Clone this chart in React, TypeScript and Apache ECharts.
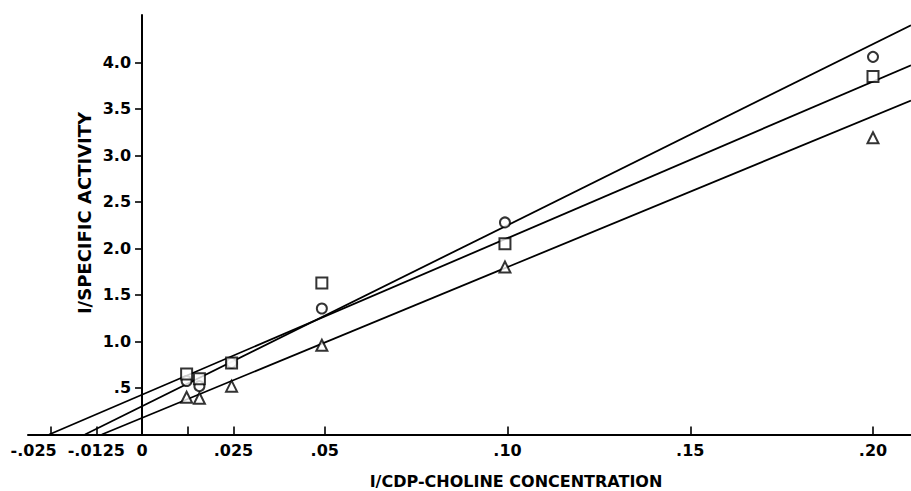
import React, { useEffect, useRef } from "react";
import * as echarts from "echarts";

// Axis ticks / labels
const xTickValues = [-0.025, -0.0125, 0, 0.0125, 0.025, 0.05, 0.1, 0.15, 0.2];
const xLabelValues = [-0.025, -0.0125, 0, 0.025, 0.05, 0.1, 0.15, 0.2];
const xLabelTexts = ["-.025", "-.0125", "0", ".025", ".05", ".10", ".15", ".20"];
const yTickValues = [0.5, 1.0, 1.5, 2.0, 2.5, 3.0, 3.5, 4.0];
const yLabelTexts = [".5", "1.0", "1.5", "2.0", "2.5", "3.0", "3.5", "4.0"];

// Data (x = 1/CDP-choline concentration)
const xValues = [0.0122, 0.0157, 0.0245, 0.0492, 0.0993, 0.2];
const circleValues = [0.575, 0.52, 0.77, 1.355, 2.28, 4.06];
const squareValues = [0.65, 0.6, 0.77, 1.63, 2.05, 3.85];
const triangleValues = [0.4, 0.39, 0.52, 0.96, 1.8, 3.19];

// Fitted lines: [x-intercept, y at right edge]
const lineTop = [[-0.0156, 0], [0.2104, 4.4]];
const lineMid = [[-0.0254, 0], [0.2104, 3.97]];
const lineBot = [[-0.011, 0], [0.2104, 3.59]];

const FONT = "'DejaVu Sans', 'Liberation Sans', sans-serif";
const X_MIN = -0.0312;
const X_MAX = 0.2104;
const GRID_LEFT = 28;
const GRID_WIDTH = 911 - GRID_LEFT;

export default function App() {
  const ref = useRef<HTMLDivElement>(null);
  useEffect(() => {
    if (!ref.current) return;
    const chart = echarts.init(ref.current, null, { renderer: "svg" });
    const pts = (ys: number[]) => xValues.map((x, i) => [x, ys[i]]);
    const markerStyle = { color: "#fff", borderColor: "#000", borderWidth: 2 };
    const lineStyle = { color: "#000", width: 1.8 };
    // shift the y axis so that it stands at x = 0 of the x axis
    const yOffset = -((0 - X_MIN) / (X_MAX - X_MIN)) * GRID_WIDTH;
    chart.setOption({
      animation: false,
      backgroundColor: "#fff",
      grid: { left: GRID_LEFT, right: 0, top: 15, bottom: 56.5, containLabel: false, outerBoundsMode: "none" },
      xAxis: {
        type: "value",
        min: X_MIN,
        max: X_MAX,
        axisLine: { onZero: false, lineStyle: { color: "#000", width: 2 } },
        axisTick: { customValues: xTickValues, inside: true, length: 8, lineStyle: { color: "#000", width: 1.6 } },
        axisLabel: {
          customValues: xLabelValues,
          margin: 8,
          color: "#000",
          fontFamily: FONT,
          fontWeight: "bold",
          fontSize: 16,
          formatter: (v: number) => {
            const i = xLabelValues.findIndex((x) => Math.abs(x - v) < 1e-9);
            const t = i >= 0 ? xLabelTexts[i] : "";
            return v < -0.02 ? "{s|" + t + "}" : t;
          },
          rich: { s: { padding: [0, 34, 0, 0], color: "#000", fontFamily: FONT, fontWeight: "bold", fontSize: 16 } },
        },
        splitLine: { show: false },
      },
      yAxis: {
        type: "value",
        min: 0,
        max: 4.51,
        offset: yOffset,
        axisLine: { show: true, onZero: false, lineStyle: { color: "#000", width: 2 } },
        axisTick: { show: true, customValues: yTickValues, length: 7, lineStyle: { color: "#000", width: 1.6 } },
        axisLabel: {
          customValues: yTickValues,
          margin: 11,
          color: "#000",
          fontFamily: FONT,
          fontWeight: "bold",
          fontSize: 16,
          formatter: (v: number) => {
            const i = yTickValues.findIndex((y) => Math.abs(y - v) < 1e-9);
            return i >= 0 ? yLabelTexts[i] : "";
          },
        },
        splitLine: { show: false },
      },
      graphic: [
        {
          type: "text",
          x: 516,
          y: 481,
          style: {
            text: "I/CDP-CHOLINE CONCENTRATION",
            fill: "#000",
            font: "bold 16px " + FONT,
            align: "center",
            verticalAlign: "middle",
          },
        },
        {
          type: "text",
          x: 84,
          y: 213,
          rotation: Math.PI / 2,
          style: {
            text: "I/SPECIFIC ACTIVITY",
            fill: "#000",
            font: "bold 18px " + FONT,
            align: "center",
            verticalAlign: "middle",
          },
        },
      ],
      series: [
        { type: "line", data: lineTop, symbol: "none", lineStyle, clip: true, z: 2 },
        { type: "line", data: lineMid, symbol: "none", lineStyle, clip: true, z: 2 },
        { type: "line", data: lineBot, symbol: "none", lineStyle, clip: true, z: 2 },
        { type: "scatter", data: pts(circleValues), symbol: "circle", symbolSize: 10, itemStyle: markerStyle, z: 3 },
        { type: "scatter", data: pts(squareValues), symbol: "rect", symbolSize: 11, itemStyle: markerStyle, z: 3 },
        { type: "scatter", data: pts(triangleValues), symbol: "triangle", symbolSize: 11, itemStyle: markerStyle, z: 3 },
      ],
    });
    return () => chart.dispose();
  }, []);
  return <div ref={ref} style={{ position: "fixed", left: 0, top: 0, width: 911, height: 491 }} />;
}
